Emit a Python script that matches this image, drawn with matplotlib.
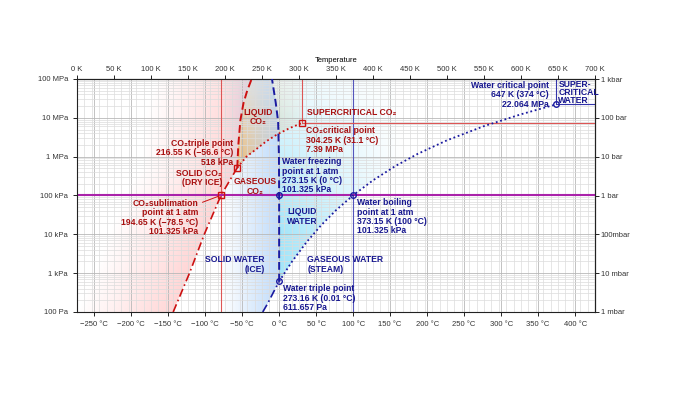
import numpy as np
import matplotlib.pyplot as plt
from matplotlib.patches import Polygon
from matplotlib.colors import LinearSegmentedColormap
from matplotlib.ticker import FixedLocator, NullFormatter, LogLocator

plt.rcParams['font.family'] = ['Liberation Sans', 'DejaVu Sans']

# --- data (temperature in K, pressure in Pa) ---
co2_sub_T = [130, 152, 172, 194.65, 216.55]
co2_sub_P = [1e2, 1e3, 1e4, 101325, 518000]
co2_melt_T = [216.55, 218, 220.8, 225, 230, 236]
co2_melt_P = [518000, 2e6, 8.7e6, 2.4e7, 5e7, 1e8]
co2_vap_T = [216.55, 229, 243, 256, 270, 287, 304.25]
co2_vap_P = [518000, 1.0e6, 1.6e6, 2.5e6, 3.7e6, 5.4e6, 7.39e6]

h2o_sub_T = [251, 258, 265, 273.16]
h2o_sub_P = [100, 170, 310, 611.657]
h2o_melt_T = [273.16, 273.15, 272.9, 271.8, 268.5, 266, 263.5]
h2o_melt_P = [611.657, 101325, 1e6, 8e6, 2.5e7, 5e7, 1e8]
h2o_boil_T = [273.16, 290, 310, 330, 350, 373.15, 400, 430, 460, 500, 550, 600, 647]
h2o_boil_P = [611.657, 1920, 6230, 17200, 41700, 101325, 245600, 570000,
              1170000, 2640000, 6120000, 12340000, 22064000]

co2_points_T = [216.55, 304.25, 194.65]
co2_points_P = [518000, 7.39e6, 101325]
h2o_points_T = [273.16, 273.15, 373.15, 647]
h2o_points_P = [611.657, 101325, 101325, 22064000]

atm = 101325
celsius_ticks = list(range(-250, 401, 50))
kelvin_ticks = list(range(0, 701, 50))
pa_ticks = [1e2, 1e3, 1e4, 1e5, 1e6, 1e7, 1e8]
pa_labels = ['100 Pa', '1 kPa', '10 kPa', '100 kPa', '1 MPa', '10 MPa', '100 MPa']
bar_labels = ['1 mbar', '10 mbar', '100mbar', '1 bar', '10 bar', '100 bar', '1 kbar']

RED = '#cc1111'
RED_T = '#a81010'
BLUE = '#1a1aa0'
BLUE_T = '#181890'

fig = plt.figure(figsize=(6.73, 3.94), dpi=100)
ax = fig.add_axes([77/673, 82/394, 518/673, 233/394])
ax.set_xlim(0, 700)
ax.set_yscale('log')
ax.set_ylim(1e2, 1e8)


# farbige Flaechen mit Verlauf
def shade(vT, vP, rgb, alpha_fn):
    patch = Polygon(np.column_stack([vT, vP]), closed=True, fc='none', ec='none')
    ax.add_patch(patch)
    tt = np.linspace(0, 700, 351)
    pp = np.logspace(2, 8, 241)
    TT, PP = np.meshgrid(tt, pp)
    a = np.clip(alpha_fn(TT, np.log10(PP)), 0, 1)
    cmap = LinearSegmentedColormap.from_list('g', [(*rgb, 0), (*rgb, 1)])
    m = ax.pcolormesh(TT, PP, a, cmap=cmap, vmin=0, vmax=1, shading='nearest',
                      zorder=0.2, linewidth=0, antialiased=False, rasterized=True)
    m.set_clip_path(patch)


cl = lambda v: np.clip(v, 0, 1)

# solid CO2
bT = co2_sub_T + co2_melt_T[1:]
bP = co2_sub_P + co2_melt_P[1:]
shade([0] + bT + [0], [1e2] + bP + [1e8], (1.0, 0.55, 0.55),
      lambda T, lp: 0.36 * cl(1 - (np.interp(lp, np.log10(bP), bT) - T) / 130))
# liquid CO2
shade(co2_melt_T + [304.25] + co2_vap_T[::-1], co2_melt_P + [1e8] + co2_vap_P[::-1],
      (1.0, 0.68, 0.25), lambda T, lp: 0.75 * cl(1.1 - (lp - 5.7) / 2.8) * cl(1 - (T - 222) / 95))
# ice
iT = h2o_sub_T + h2o_melt_T[1:]
iP = h2o_sub_P + h2o_melt_P[1:]
shade([0] + iT + [0], [1e2] + iP + [1e8], (0.55, 0.75, 0.97),
      lambda T, lp: 0.55 * cl((T - 195) / 78))
# liquid water
shade(h2o_melt_T + [647] + h2o_boil_T[::-1], h2o_melt_P + [1e8] + h2o_boil_P[::-1],
      (0.5, 0.86, 0.97), lambda T, lp: 0.72 * cl(1 - (T - 273) / 170) * cl(1.25 - (lp - 2.8) / 5))

# Gitter
ax.set_axisbelow(True)
ax.xaxis.set_major_locator(FixedLocator([c + 273.15 for c in celsius_ticks]))
ax.xaxis.set_minor_locator(FixedLocator(np.arange(0, 701, 10)))
ax.set_xticklabels([(f'{c} °C').replace('-', '\u2212') for c in celsius_ticks])
ax.yaxis.set_major_locator(FixedLocator(pa_ticks))
ax.yaxis.set_minor_locator(LogLocator(base=10, subs=np.arange(2, 10)))
ax.yaxis.set_minor_formatter(NullFormatter())
ax.set_yticklabels(pa_labels)
ax.grid(True, which='major', color='#b8b8b8', lw=0.6)
ax.grid(True, which='minor', color='#dcdcdc', lw=0.5)
ax.tick_params(which='major', labelsize=5.5, labelcolor='#333333', length=3, width=0.6)
ax.tick_params(which='minor', length=0)
for s in ax.spines.values():
    s.set_linewidth(0.8)
    s.set_color('#222222')

top = ax.secondary_xaxis('top')
top.set_xticks(kelvin_ticks)
top.set_xticklabels([f'{k} K' for k in kelvin_ticks])
top.tick_params(labelsize=5.5, labelcolor='#333333', length=3, width=0.6, pad=1)
top.set_xlabel('Temperature', fontsize=5.5, labelpad=3)
right = ax.secondary_yaxis('right')
right.set_yticks(pa_ticks)
right.set_yticklabels(bar_labels)
right.yaxis.set_minor_locator(FixedLocator([]))
right.tick_params(labelsize=5.5, labelcolor='#333333', length=3, width=0.6, pad=1)

# Referenzlinien
ax.axvline(194.65, color='#dd5555', lw=0.8, zorder=1)
ax.axvline(373.15, color='#5555bb', lw=0.8, zorder=1)
ax.plot([304.25, 304.25], [7.39e6, 1e8], color='#dd5555', lw=0.8, zorder=1)
ax.plot([304.25, 700], [7.39e6, 7.39e6], color='#dd5555', lw=0.8, zorder=1)
ax.plot([647, 647], [22064000, 1e8], color='#3333aa', lw=0.8, zorder=1)
ax.plot([647, 700], [22064000, 22064000], color='#3333aa', lw=0.8, zorder=1)
ax.axhline(atm, color='#aa22aa', lw=1.5, zorder=1.5)

# Phasengrenzen
ax.plot(co2_sub_T, co2_sub_P, color=RED, lw=1.2, ls=(0, (5, 2, 1, 2)), zorder=3)
ax.plot(co2_melt_T, co2_melt_P, color=RED, lw=1.4, ls=(0, (4, 2)), zorder=3)
ax.plot(co2_vap_T, co2_vap_P, color=RED, lw=1.3, ls=(0, (1, 1.5)), zorder=3)
ax.plot(h2o_sub_T, h2o_sub_P, color=BLUE, lw=1.2, ls=(0, (5, 2, 1, 2)), zorder=3)
ax.plot(h2o_melt_T, h2o_melt_P, color=BLUE, lw=1.4, ls=(0, (4, 2)), zorder=3)
ax.plot(h2o_boil_T, h2o_boil_P, color=BLUE, lw=1.3, ls=(0, (1, 1.5)), zorder=3)
ax.plot(co2_points_T, co2_points_P, ls='none', marker='s', ms=4, mfc='none', mec=RED, mew=1, zorder=4)
ax.plot(h2o_points_T, h2o_points_P, ls='none', marker='o', ms=4, mfc='none', mec=BLUE, mew=1, zorder=4)

# Beschriftungen
kw = dict(fontsize=6.2, fontweight='bold', linespacing=1.05, zorder=5)
ax.text(244.6, 1.05e7, 'LIQUID\nCO\u2082', color=RED_T, ha='center', va='center', **kw)
ax.text(311, 1.41e7, 'SUPERCRITICAL CO\u2082', color=RED_T, ha='left', va='center', **kw)
ax.text(309.5, 6.1e6, 'CO\u2082critical point\n304.25 K (31.1 °C)\n7.39 MPa', color=RED_T, ha='left', va='top', **kw)
ax.text(210.8, 2.85e6, 'CO\u2082triple point\n216.55 K (\u221256.6 °C)\n518 kPa', color=RED_T, ha='right', va='top', **kw)
ax.text(196, 4.8e5, 'SOLID CO\u2082\n(DRY ICE)', color=RED_T, ha='right', va='top', **kw)
ax.text(240.5, 1.7e5, 'GASEOUS\nCO\u2082', color=RED_T, ha='center', va='center', **kw)
ax.text(163.5, 8.07e4, 'CO\u2082sublimation\npoint at 1 atm\n194.65 K (\u221278.5 °C)\n101.325 kPa', color=RED_T, ha='right', va='top', **kw)
ax.annotate('', xy=(194.65, atm), xytext=(166, 6.3e4),
            arrowprops=dict(arrowstyle='-', color=RED, lw=0.7), zorder=4)
ax.text(254, 2.9e3, 'SOLID WATER\n(ICE)', color=BLUE_T, ha='right', va='top', **kw)
ax.text(277, 9.7e5, 'Water freezing\npoint at 1 atm\n273.15 K (0 °C)\n101.325 kPa', color=BLUE_T, ha='left', va='top', **kw)
ax.text(304, 2.86e4, 'LIQUID\nWATER', color=BLUE_T, ha='center', va='center', **kw)
ax.text(378.4, 8.5e4, 'Water boiling\npoint at 1 atm\n373.15 K (100 °C)\n101.325 kPa', color=BLUE_T, ha='left', va='top', **kw)
ax.text(311, 2.9e3, 'GASEOUS WATER\n(STEAM)', color=BLUE_T, ha='left', va='top', **kw)
ax.text(278.4, 520, 'Water triple point\n273.16 K (0.01 °C)\n611.657 Pa', color=BLUE_T, ha='left', va='top', **kw)
ax.text(637.8, 8.9e7, 'Water critical point\n647 K (374 °C)\n22.064 MPa', color=BLUE_T, ha='right', va='top', **kw)
ax.text(650.5, 9.3e7, 'SUPER-\nCRITICAL\nWATER', color=BLUE_T, ha='left', va='top',
        family=['Liberation Sans Narrow', 'Liberation Sans', 'DejaVu Sans'],
        fontsize=6.2, fontweight='bold', linespacing=0.85, zorder=5)

fig.savefig('out.png', dpi=100)
